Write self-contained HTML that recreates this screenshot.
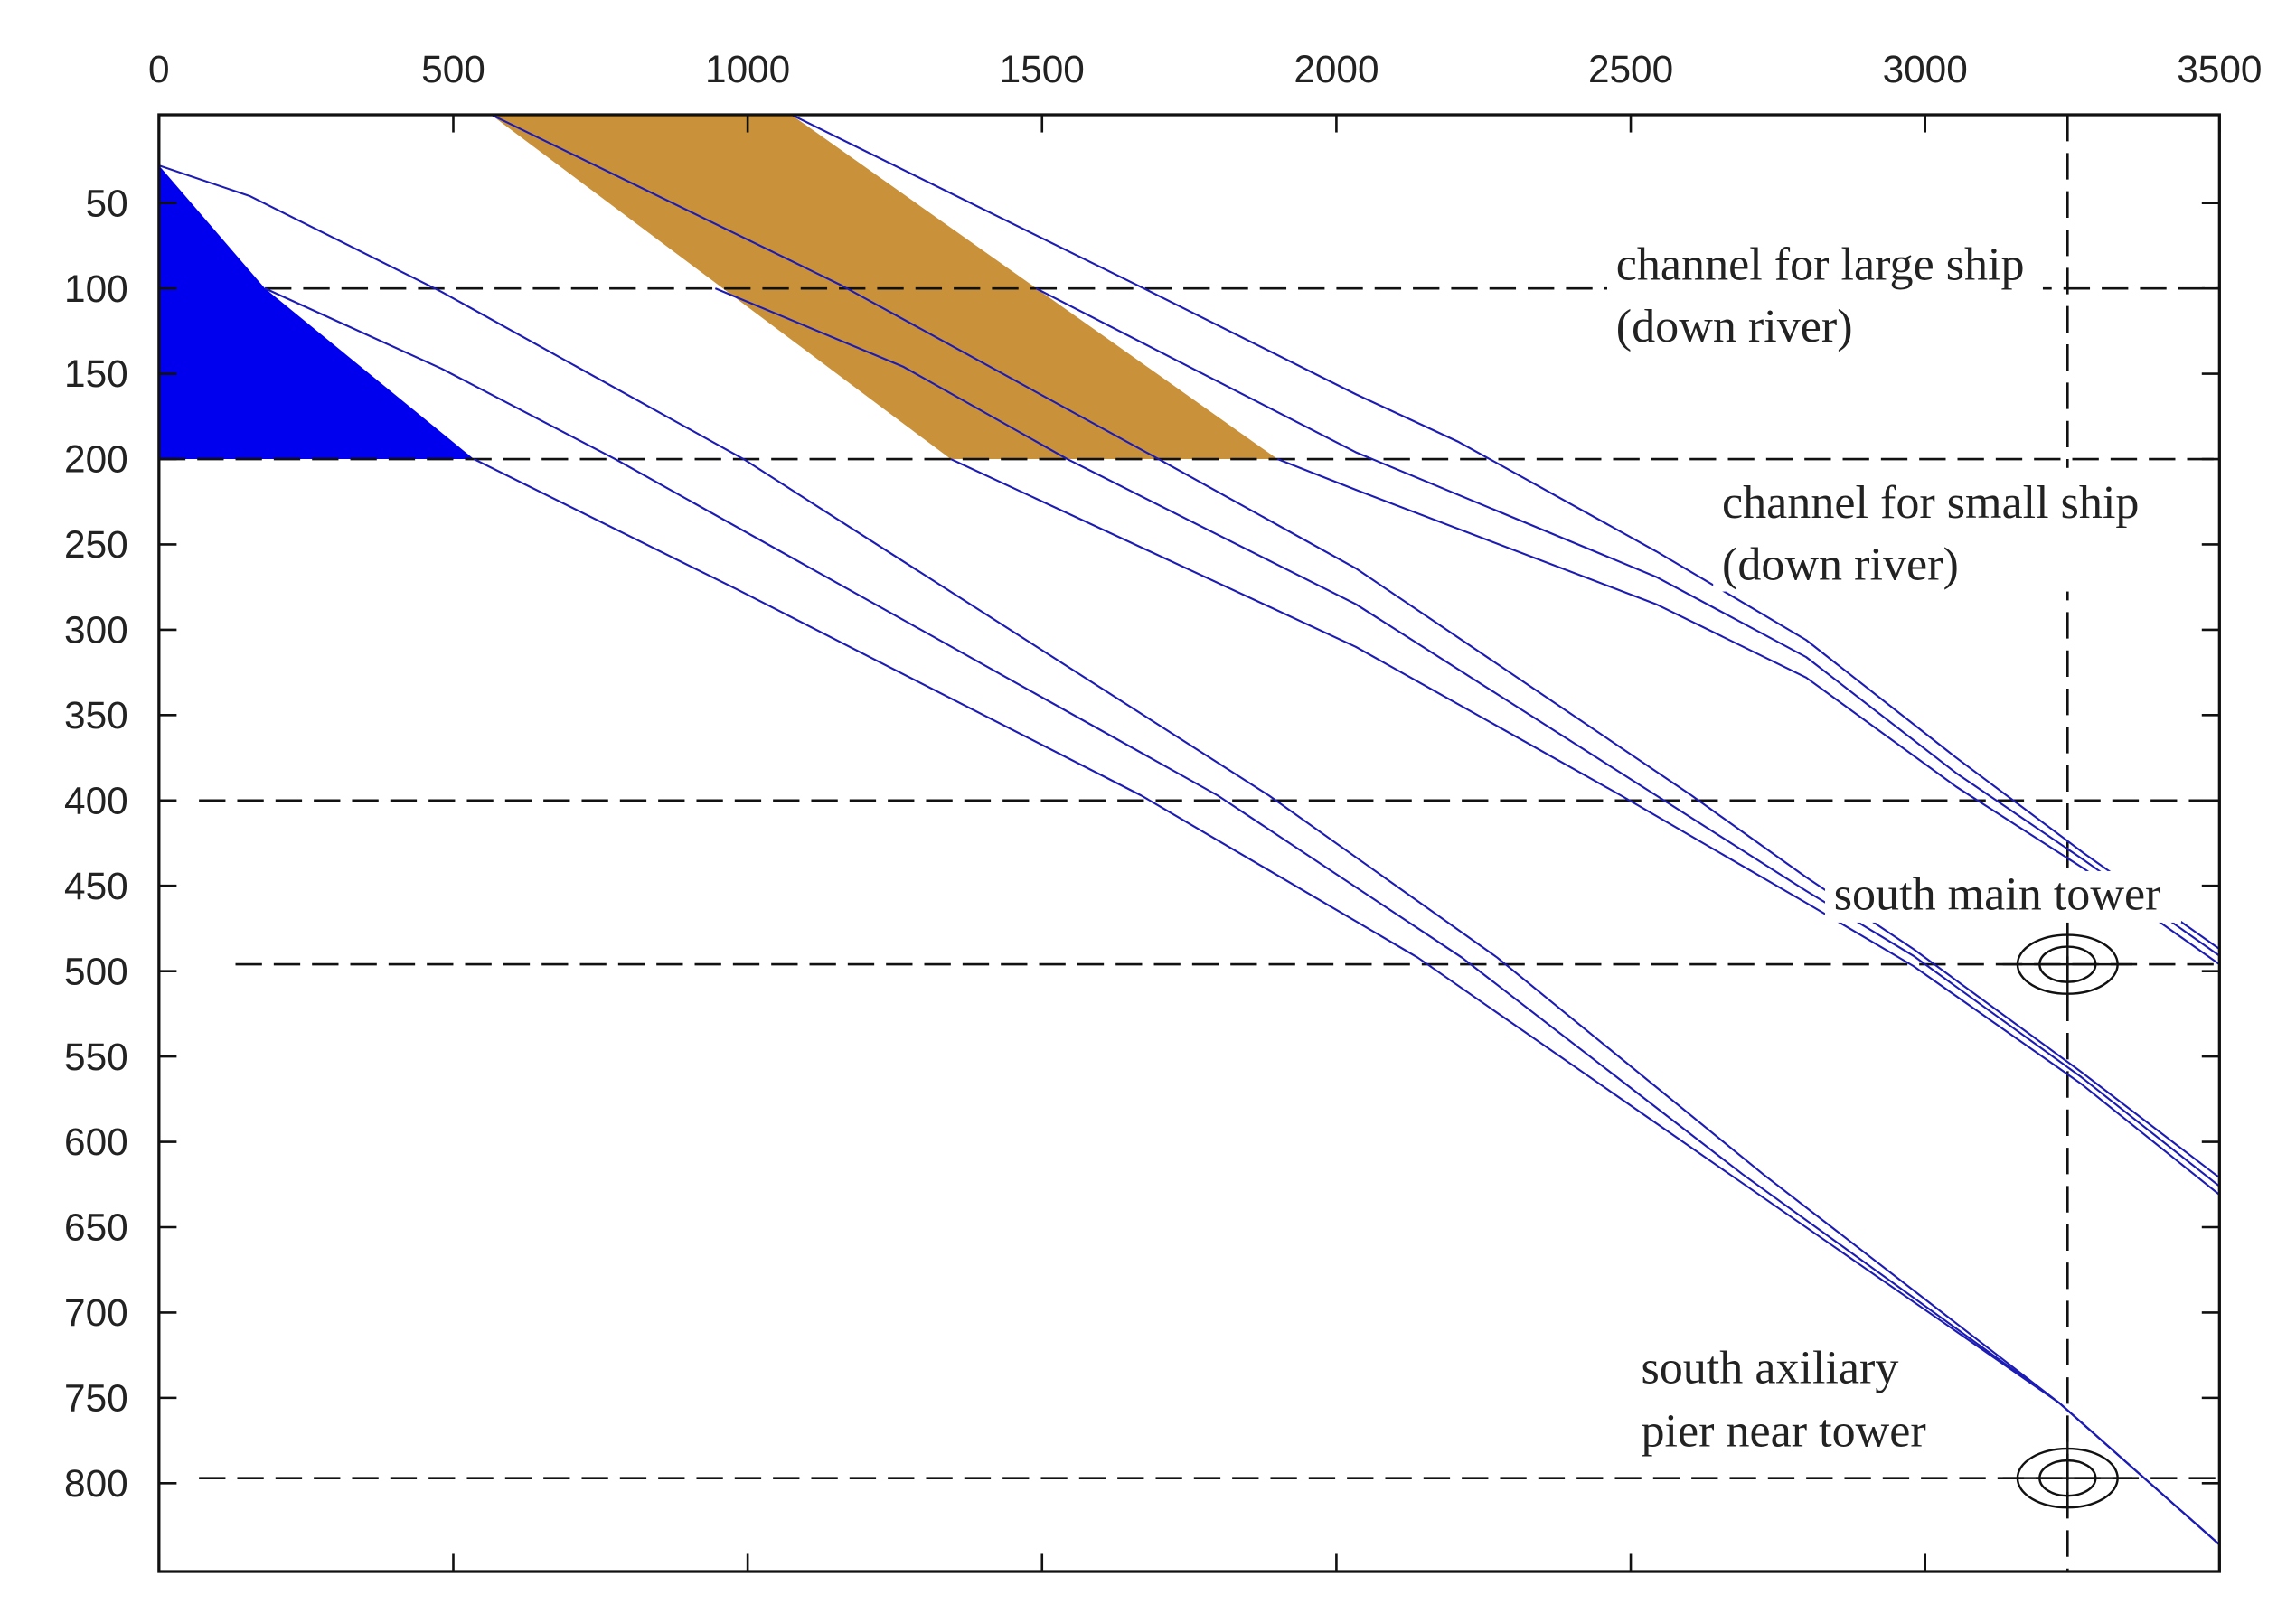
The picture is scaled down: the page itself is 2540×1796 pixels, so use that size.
<!DOCTYPE html>
<html><head><meta charset="utf-8"><style>
html,body{margin:0;padding:0;background:#fff;}
svg{display:block;}
.tick{font-family:"Liberation Sans",sans-serif;font-size:26px;fill:#222;}
.lbl{font-family:"Liberation Serif",serif;font-size:32px;fill:#222;}
</style></head><body>
<svg id="chart" width="2540" height="1796" viewBox="0 0 1560 1103" preserveAspectRatio="none" xmlns="http://www.w3.org/2000/svg">
<rect x="0" y="0" width="1560" height="1103" fill="#fff"/>
<g id="fills"></g><g id="guides"></g><g id="series"></g><g id="labels"></g><g id="axes"></g>
</svg>
<script>
// ---- data ----
const xTicks = [0,500,1000,1500,2000,2500,3000,3500];
const yTicks = [50,100,150,200,250,300,350,400,450,500,550,600,650,700,750,800];
const hGuides = [[180,100],[0,200],[68,400],[130,496],[68,797]]; // [startX, yValue]
const vGuideX = 3242;
const triX = [0,180,535,0];
const triY = [28,100,200,200];
const goldX = [563,1073,1900,1345];
const goldY = [-2,-2,200,200];
const c1x=[0,155,480,993,1885,2273,2725,3228,3500], c1y=[28,46,102,200,397,492,619,753,836];
const c2x=[180,480,775,1798,2213,2690,3228,3500], c2y=[100,147,200,397,492,619,753,836];
const c3x=[535,980,1668,2138,2668,3228,3500], c3y=[200,276,397,492,619,753,836];
const b1x=[563,1158,1698,2033,2603,2798,2980,3265,3500], b1y=[-2,98,200,264,397,445,487,559,621];
const b2x=[945,1265,1543,2033,2543,2798,2980,3265,3500], b2y=[100,146,200,285,397,453,491,562,626];
const b3x=[1345,2033,2483,2798,2980,3265,3500], b3y=[200,310,397,460,497,566,631];
const a1x=[1073,1673,2033,2208,2543,2798,3053,3270,3500], a1y=[-2,100,162,190,254,306,375,431,487];
const a2x=[1490,2033,2543,2798,3053,3270,3500], a2y=[100,196,269,316,384,435,491];
const a3x=[1900,2033,2543,2798,3053,3270,3500], a3y=[200,218,285,328,392,440,496];
const towerPts = [[3242,496],[3242,797]];

// ---- axes ----
const L=108,R=1508,T=78,B=1068;
const X = v => L + v*0.4;
const Y = v => 80 + v*1.16;
const NS="http://www.w3.org/2000/svg";
function mk(tag, attrs, parent){const e=document.createElementNS(NS,tag);for(const k in attrs)e.setAttribute(k,attrs[k]);document.getElementById(parent).appendChild(e);return e;}

let e;
e=mk('polygon',{points:triX.map((v,i)=>X(v)+','+Y(triY[i])).join(' '),fill:'#0000ee'},'fills');


e=mk('polygon',{points:goldX.map((v,i)=>X(v)+','+Y(goldY[i])).join(' '),fill:'#c8913a'},'fills');



hGuides.forEach((g,i)=>{
  e=mk('line',{x1:X(g[0]),x2:R,y1:Y(g[1]),y2:Y(g[1]),stroke:'#111','stroke-width':1.6,'stroke-dasharray':'18 8'},'guides');
  
  
});
e=mk('line',{x1:X(vGuideX),x2:X(vGuideX),y1:T,y2:B,stroke:'#111','stroke-width':1.6,'stroke-dasharray':'18 8'},'guides');



const series=[['c1',c1x,c1y],['c2',c2x,c2y],['c3',c3x,c3y],['b1',b1x,b1y],['b2',b2x,b2y],['b3',b3x,b3y],['a1',a1x,a1y],['a2',a2x,a2y],['a3',a3x,a3y]];
series.forEach(s=>{
  e=mk('polyline',{points:s[1].map((v,i)=>X(v)+','+Y(s[2][i])).join(' '),fill:'none',stroke:'#1c1cb4','stroke-width':1.3,'stroke-linejoin':'round'},'series');
  
  
});

// labels with white backgrounds
const labs=[
 {name:'label-large-ship-channel',x:1092,y:162,w:296,h:84,lines:['channel for large ship','(down river)'],tx:1098,ty:[190,232]},
 {name:'label-small-ship-channel',x:1164,y:318,w:298,h:84,lines:['channel for small ship','(down river)'],tx:1170,ty:[352,394]},
 {name:'label-south-main-tower',x:1240,y:592,w:242,h:35,lines:['south main tower'],tx:1246,ty:[618]},
 {name:'label-south-auxiliary-pier',x:1110,y:912,w:0,h:0,lines:['south axiliary','pier near tower'],tx:1115,ty:[940,983]}
];
labs.forEach(l=>{
  const g=mk('g',{},'labels');
  
  
  if(l.w){const r=document.createElementNS(NS,'rect');r.setAttribute('x',l.x);r.setAttribute('y',l.y);r.setAttribute('width',l.w);r.setAttribute('height',l.h);r.setAttribute('fill','#fff');g.appendChild(r);}
  l.lines.forEach((t,i)=>{const tx=document.createElementNS(NS,'text');tx.setAttribute('x',l.tx);tx.setAttribute('y',l.ty[i]);tx.setAttribute('class','lbl');tx.textContent=t;g.appendChild(tx);});
});

towerPts.forEach((p,i)=>{
  const cx=X(p[0]),cy=Y(p[1]);
  const g=mk('g',{fill:'none',stroke:'#111','stroke-width':1.5},'axes');
  
  
  [[34,20],[19,12]].forEach(r=>{const el=document.createElementNS(NS,'ellipse');el.setAttribute('cx',cx);el.setAttribute('cy',cy);el.setAttribute('rx',r[0]);el.setAttribute('ry',r[1]);g.appendChild(el);});
  const h=document.createElementNS(NS,'line');h.setAttribute('x1',cx-44);h.setAttribute('x2',cx+44);h.setAttribute('y1',cy);h.setAttribute('y2',cy);g.appendChild(h);
  const v=document.createElementNS(NS,'line');v.setAttribute('x1',cx);v.setAttribute('x2',cx);v.setAttribute('y1',cy-26);v.setAttribute('y2',cy+26);g.appendChild(v);
});

// frame
e=mk('rect',{x:L,y:T,width:R-L,height:B-T,fill:'none',stroke:'#111','stroke-width':2},'axes');


xTicks.forEach(v=>{
  const x=X(v);
  e=mk('line',{x1:x,x2:x,y1:T,y2:T+12,stroke:'#111','stroke-width':1.6},'axes');
  
  
  e=mk('line',{x1:x,x2:x,y1:B,y2:B-12,stroke:'#111','stroke-width':1.6},'axes');
  
  
  e=mk('text',{x:x,y:56,'text-anchor':'middle',class:'tick'},'axes');
  e.textContent=v;
  
  
});
yTicks.forEach(v=>{
  const y=Y(v);
  e=mk('line',{x1:L,x2:L+12,y1:y,y2:y,stroke:'#111','stroke-width':1.6},'axes');
  
  
  e=mk('line',{x1:R,x2:R-12,y1:y,y2:y,stroke:'#111','stroke-width':1.6},'axes');
  
  
  e=mk('text',{x:87,y:y+9,'text-anchor':'end',class:'tick'},'axes');
  e.textContent=v;
  
  
});
</script>
</body></html>
